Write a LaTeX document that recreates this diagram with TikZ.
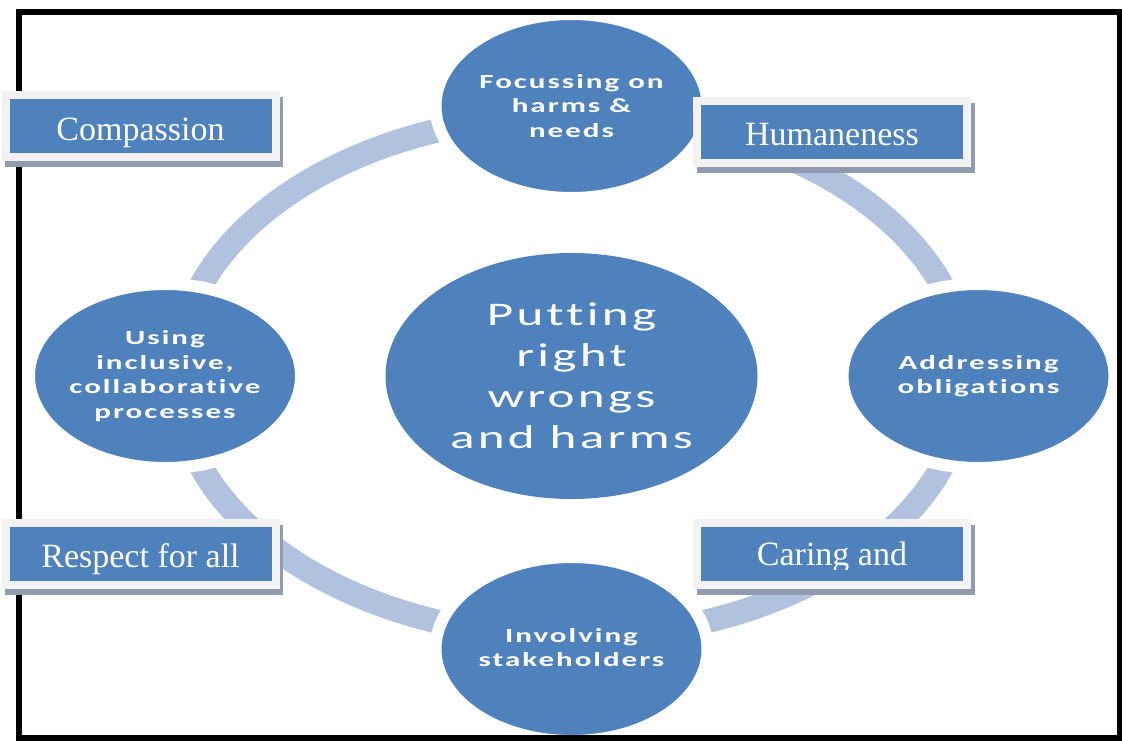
\documentclass[tikz,border=0pt]{standalone}
\usepackage{fontspec}
\setmainfont{Liberation Serif}
\newfontfamily\circfont[FakeStretch=1.55,LetterSpace=10,Ligatures=NoCommon]{Carlito}
\usetikzlibrary{shapes.geometric}

\definecolor{dotblue}{RGB}{79,129,189}
\definecolor{ringblue}{RGB}{176,194,222}
\definecolor{framegray}{RGB}{242,242,242}
\definecolor{shadowgray}{RGB}{145,155,175}

\begin{document}
\begin{tikzpicture}[x=1pt,y=-1pt,
  stage/.style={ellipse, fill=dotblue, draw=white, line width=12pt, inner sep=0pt,
    minimum width=272pt, minimum height=184pt, text=white, align=center,
    font=\circfont\bfseries\fontsize{20}{24.5}\selectfont},
  hub/.style={ellipse, fill=dotblue, draw=none, inner sep=0pt,
    minimum width=372pt, minimum height=246pt, text=white, align=center,
    font=\circfont\fontsize{33}{41}\selectfont},
  valuebox/.style={rectangle, fill=dotblue, draw=framegray, line width=8pt, inner sep=0pt,
    minimum width=270pt, minimum height=62pt},
  valuetext/.style={inner sep=0pt, anchor=base, text=white, font=\fontsize{34}{40}\selectfont},
  boxshadow/.style={rectangle, fill=shadowgray, inner sep=0pt,
    minimum width=278pt, minimum height=70pt},
  cycle/.style={ringblue, line width=24pt},
]
\useasboundingbox (0,0) rectangle (1122,740);

% the cycle ring behind the stages
\draw[cycle] (571.5,376) ellipse [x radius=395, y radius=261];

% stages on the cycle
\node[stage] (harms) at (571.5,106) {Focussing on\\harms \&\\needs};
\node[stage] (oblig) at (978.5,376) {Addressing\\obligations};
\node[stage] (stake) at (571.5,649) {\raisebox{3pt}{Involving}\\\raisebox{3pt}{stakeholders}};
\node[stage] (incl)  at (165,376)   {Using\\inclusive,\\collaborative\\processes};

% central idea
\node[hub] (hub) at (571.5,376) {Putting\\right\\wrongs\\and harms};

% outer frame
\draw[line width=6pt] (19,12) rectangle (1120,738);

% values
\node[boxshadow] (comp-sh) at (144,131.5) {};
\node[valuebox] (comp) at (140.5,125.5) {};
\node[valuetext] (comp-t) at (140.5,140) {Compassion};

\node[boxshadow] (hum-sh) at (835.5,137.5) {};
\node[valuebox] (hum) at (832,131.5) {};
\node[valuetext] (hum-t) at (832,145) {Humaneness};

\node[boxshadow] (resp-sh) at (144,560) {};
\node[valuebox] (resp) at (140.5,554) {};
\node[valuetext] (resp-t) at (140.5,567) {Respect for all};

\node[boxshadow] (care-sh) at (835.5,560) {};
\node[valuebox] (care) at (832,554) {};
\begin{scope}
  \clip (701,527) rectangle (963,569);
  \node[valuetext] (care-t) at (832,565) {Caring and};
\end{scope}
\end{tikzpicture}
\end{document}
